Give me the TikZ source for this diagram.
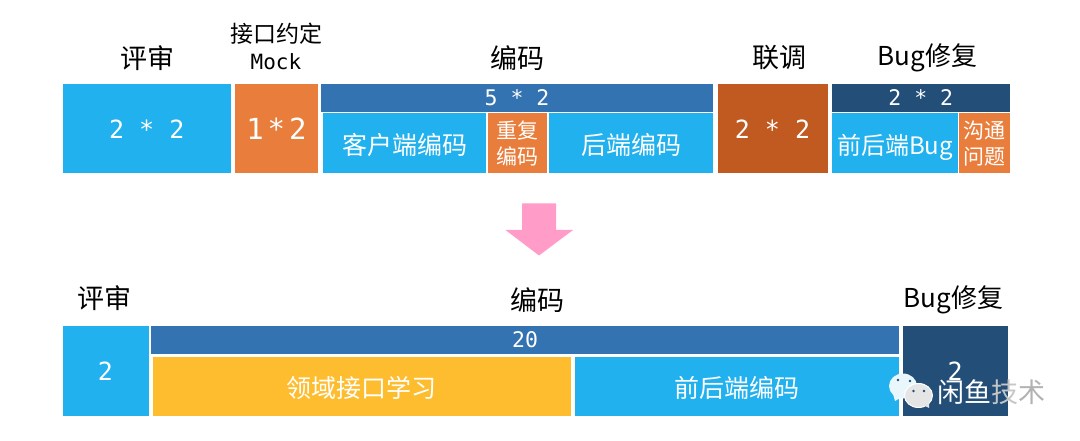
\documentclass[tikz,border=0pt]{standalone}
\usepackage{fontspec}
\setmainfont{Noto Sans CJK SC}
\setmonofont{DejaVu Sans Mono}
\definecolor{skyblue}{HTML}{20B1EE}
\definecolor{carrot}{HTML}{E97D3C}
\definecolor{steelbar}{HTML}{3373B1}
\definecolor{rust}{HTML}{C05A20}
\definecolor{navybar}{HTML}{234E78}
\definecolor{amber}{HTML}{FDBD2F}
\definecolor{pinkarrow}{HTML}{FF9DC8}
\newcommand{\sink}[2][2pt]{\raisebox{\dimexpr-.38em-#1\relax}[0pt][0pt]{#2}}
\tikzset{
  block/.style 2 args={inner sep=0pt,outer sep=0pt,text=white,minimum width=#1,minimum height=#2,align=center},
  title/.style={text=black,font=\fontsize{27}{30}\selectfont},
  bugtitle/.style={text=black,font=\fontsize{26}{30}\selectfont},
  small/.style={font=\fontsize{25}{27}\selectfont},
  tiny/.style={font=\fontsize{21}{26}\selectfont},
  num/.style={font=\ttfamily\fontsize{25}{28}\selectfont},
  barnum/.style={font=\ttfamily\fontsize{21.5}{24}\selectfont},
}
\begin{document}
\begin{tikzpicture}[x=1pt,y=-1pt]
  \useasboundingbox (0,0) rectangle (1080,441);
  % top row
  \node[title] (review) at (147,58) {评审};
  \node[font=\fontsize{23}{25}\selectfont] (agree) at (276.5,34) {接口约定};
  \node[font=\ttfamily\fontsize{21}{23}\selectfont] (mock) at (276,62) {Mock};
  \node[title] (coding) at (517,58) {编码};
  \node[title] (joint) at (779,58) {联调};
  \node[bugtitle] (bugfix) at (927.5,58) {Bug修复};
  \node[block={168.5pt}{89pt},fill=skyblue,num] (a) at (146.75,128.5) {\sink[1pt]{2 * 2}};
  \node[block={83pt}{89pt},fill=carrot,font=\ttfamily\fontsize{29}{30}\selectfont] (b) at (276.5,128.5) {1\hspace{4pt}*\hspace{4pt}2};
  \node[block={392pt}{28pt},fill=steelbar,barnum] (c) at (517,98) {5 * 2};
  \node[block={163pt}{60pt},fill=skyblue,small] (c1) at (404.5,143) {\sink{客户端编码}};
  \node[block={59pt}{60pt},fill=carrot,tiny] (c2) at (517.5,143.5) {重复\\编码};
  \node[block={164pt}{60pt},fill=skyblue,small] (c3) at (631,143) {\sink{后端编码}};
  \node[block={110pt}{89pt},fill=rust,num] (d) at (772.5,128.5) {\sink[1pt]{2 * 2}};
  \node[block={177.5pt}{28pt},fill=navybar,barnum] (e) at (920.75,98) {2 * 2};
  \node[block={126pt}{60pt},fill=skyblue,font=\fontsize{24}{26}\selectfont] (e1) at (895,143) {\sink{前后端Bug}};
  \node[block={50.5pt}{60pt},fill=carrot,tiny] (e2) at (984.25,143.5) {沟通\\问题};
  % arrow
  \fill[pinkarrow] (522,203.5) -- (556,203.5) -- (556,230) -- (573,230)
    -- (539,255.5) -- (505.5,230) -- (522,230) -- cycle;
  % bottom row
  \node[title] (review2) at (104.5,298) {评审};
  \node[title] (coding2) at (537,300) {编码};
  \node[bugtitle] (bugfix2) at (953.5,300) {Bug修复};
  \node[block={86pt}{90pt},fill=skyblue,num] (f) at (105.5,371) {2};
  \node[block={748pt}{27.5pt},fill=steelbar,barnum] (g) at (525,339.75) {20};
  \node[block={417.5pt}{59.5pt},fill=amber,small] (g1) at (361.75,386.25) {\sink[1.5pt]{领域接口学习}};
  \node[block={324pt}{59.5pt},fill=skyblue,small] (g2) at (737,386.25) {\sink[1.5pt]{前后端编码}};
  \node[block={105.5pt}{90pt},fill=navybar,num] (h) at (955.25,371) {2};
  % watermark
  \fill[white!90!skyblue] (903,386) ellipse (14 and 12.5);
  \fill[white!90!skyblue] (893,394) -- (895,401) -- (902,397) -- cycle;
  \draw[white,fill=gray!20,line width=1pt] (918.5,395.5) ellipse (14 and 12);
  \fill[gray!20] (923,405) -- (929,408) -- (929,403) -- cycle;
  \fill[navybar] (898,380) circle (1.3) (910,381) circle (1.3) (913.5,391) circle (1.3) (924,391) circle (1.3);
  \node[inner sep=0pt,font=\fontsize{27}{29}\selectfont] (mark) at (991.5,392) {\textcolor{white}{闲鱼}\textcolor{gray!45}{技}\textcolor{gray!60}{术}};
\end{tikzpicture}
\end{document}
